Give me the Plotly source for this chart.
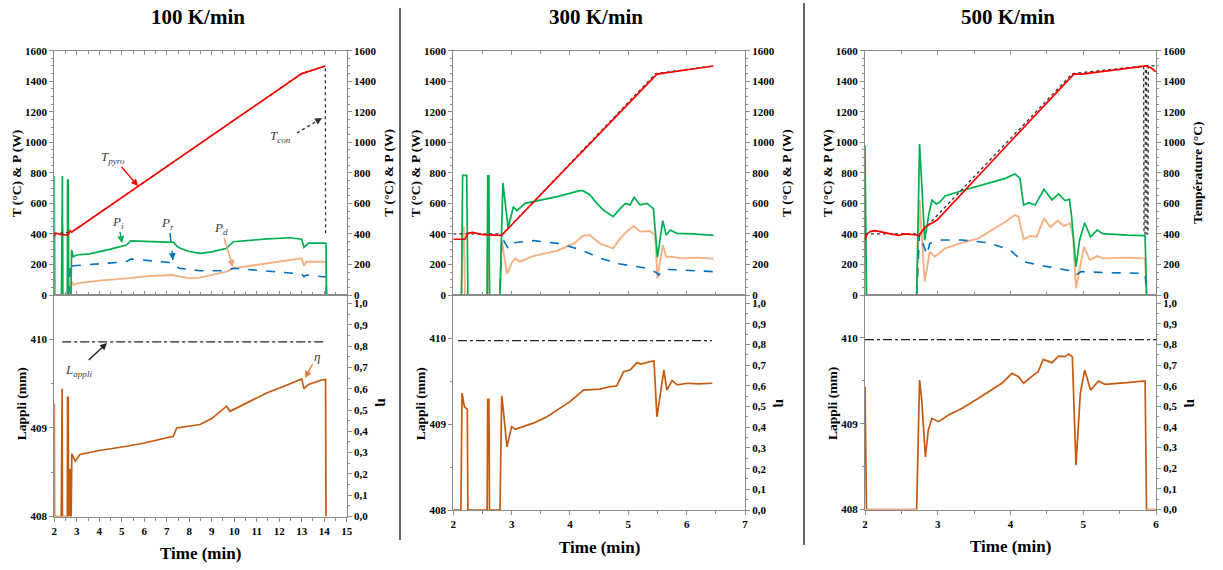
import plotly.graph_objects as go

OFF = 0
W, H = 1223, 570

# ---------------- Panel 1 : 100 K/min ----------------
p1_T_pyro_t = [2.0, 2.03, 2.1, 2.3, 2.5, 2.62, 2.7, 2.77, 13.0, 14.05]
p1_T_pyro = [380, 405, 404, 395, 393, 395, 421, 412, 1450, 1500]
p1_T_con_t = [2.0, 2.77, 13.0, 14.05, 14.06]
p1_T_con = [400, 412, 1450, 1500, 400]
p1_P_i_t = [2.0, 2.005, 2.015, 2.32, 2.33, 2.36, 2.37, 2.58, 2.59, 2.62, 2.63, 2.74, 2.77, 2.84, 2.99, 3.58,
            4.5, 5.2, 5.4, 6.26, 7.3, 7.45, 7.6, 8.0, 8.48, 9.0, 9.66, 9.96, 10.7, 11.5, 12.48, 13.0, 13.1,
            13.3, 13.96, 14.08, 14.1]
p1_P_i = [780, 780, 0, 0, 779, 779, 0, 0, 753, 753, 0, 0, 295, 251, 262, 269,
          300, 327, 354, 349, 345, 320, 306, 285, 273, 282, 306, 349, 360, 368, 375, 365, 312,
          340, 340, 338, 0]
p1_P_r_t = [2.64, 2.72, 2.77, 2.85, 3.3, 4.5, 5.2, 5.4, 6.26, 7.26, 7.55, 8.48, 9.66, 9.96, 11.44, 13.0,
            13.1, 13.2, 13.96, 14.08, 14.1]
p1_P_r = [0, 210, 188, 192, 196, 208, 218, 236, 225, 211, 175, 159, 159, 175, 157, 137,
          120, 131, 120, 118, 0]
p1_P_d_t = [2.0, 2.005, 2.015, 2.33, 2.34, 2.37, 2.38, 2.60, 2.61, 2.63, 2.64, 2.74, 2.77, 2.88, 3.0, 4.0,
            5.2, 6.26, 7.26, 8.04, 8.48, 9.0, 9.66, 9.96, 11.44, 12.78, 13.0, 13.1, 13.2, 13.96, 14.08, 14.1]
p1_P_d = [400, 400, 0, 0, 458, 458, 0, 0, 445, 445, 0, 0, 87, 65, 76, 94,
          109, 124, 131, 109, 114, 130, 153, 175, 207, 234, 240, 190, 218, 218, 215, 0]
p1_eta_t = [2.0, 2.005, 2.01, 2.31, 2.32, 2.35, 2.36, 2.58, 2.59, 2.62, 2.63, 2.67, 2.68, 2.70, 2.71, 2.75,
            2.78, 2.85, 2.93, 3.14, 4.0, 5.22, 6.0, 7.29, 7.44, 8.48, 9.0, 9.66, 9.81, 10.5, 11.44, 12.3,
            13.0, 13.1, 13.3, 13.96, 14.06, 14.08]
p1_eta = [0.53, 0.53, 0, 0, 0.60, 0.60, 0, 0, 0.56, 0.56, 0, 0, 0.22, 0.22, 0, 0,
          0.294, 0.28, 0.26, 0.291, 0.31, 0.33, 0.345, 0.377, 0.416, 0.432, 0.46, 0.518, 0.494, 0.53, 0.58, 0.615,
          0.646, 0.60, 0.62, 0.643, 0.643, 0]
p1_L_t = [2.35, 14.08]
p1_L = [409.97, 409.97]

# ---------------- Panel 2 : 300 K/min ----------------
p2_T_pyro_t = [2.0, 2.2, 2.25, 2.33, 2.5, 2.83, 2.86, 5.49, 6.46]
p2_T_pyro = [365, 365, 404, 410, 395, 390, 404, 1447, 1500]
p2_T_con_t = [2.0, 2.85, 5.47, 6.46]
p2_T_con = [400, 400, 1450, 1500]
p2_P_i_t = [2.0, 2.14, 2.16, 2.23, 2.25, 2.58, 2.59, 2.61, 2.62, 2.80, 2.85, 2.94, 3.03, 3.09, 3.23, 3.49,
            3.78, 4.17, 4.22, 4.34, 4.46, 4.57, 4.74, 4.86, 4.95, 5.03, 5.10, 5.20, 5.32, 5.43, 5.46, 5.50,
            5.59, 5.65, 5.72, 5.83, 6.1, 6.46]
p2_P_i = [0, 0, 784, 784, 0, 0, 780, 780, 0, 0, 735, 440, 578, 552, 600, 622,
          644, 683, 683, 657, 600, 557, 513, 566, 600, 590, 640, 590, 600, 566, 447, 247,
          487, 393, 426, 404, 400, 390]
p2_P_r_t = [2.0, 2.80, 2.83, 2.94, 3.0, 3.37, 3.78, 4.17, 4.52, 4.86, 5.32, 5.49, 5.52, 5.63, 5.89, 6.46]
p2_P_r = [0, 0, 378, 306, 341, 356, 338, 299, 240, 203, 175, 146, 131, 168, 164, 153]
p2_P_d_t = [2.0, 2.14, 2.16, 2.18, 2.20, 2.58, 2.59, 2.61, 2.62, 2.80, 2.83, 2.92, 3.0, 3.06, 3.14, 3.37,
            3.78, 4.07, 4.23, 4.34, 4.52, 4.74, 4.86, 4.97, 5.09, 5.2, 5.37, 5.46, 5.50, 5.59, 5.65, 5.75,
            5.9, 6.2, 6.46]
p2_P_d = [0, 0, 443, 443, 0, 0, 410, 410, 0, 0, 360, 138, 208, 240, 218, 255,
          290, 338, 390, 393, 334, 306, 371, 415, 452, 415, 419, 393, 109, 327, 251, 251,
          240, 245, 237]
p2_eta_t = [2.0, 2.13, 2.15, 2.19, 2.24, 2.25, 2.58, 2.59, 2.61, 2.62, 2.80, 2.83, 2.86, 2.92, 3.0, 3.06,
            3.37, 3.6, 4.0, 4.23, 4.52, 4.66, 4.8, 4.92, 5.03, 5.15, 5.21, 5.44, 5.49, 5.61, 5.66, 5.75,
            5.84, 6.01, 6.2, 6.44]
p2_eta = [0, 0, 0.565, 0.50, 0.487, 0, 0, 0.535, 0.535, 0, 0, 0.552, 0.476, 0.306, 0.403, 0.39,
          0.42, 0.45, 0.524, 0.58, 0.585, 0.595, 0.60, 0.669, 0.677, 0.713, 0.706, 0.722, 0.451, 0.677, 0.58, 0.626,
          0.605, 0.613, 0.61, 0.613]
p2_L_t = [2.08, 6.43]
p2_L = [409.97, 409.97]

# ---------------- Panel 3 : 500 K/min ----------------
p3_T_pyro_t = [2.0, 2.03, 2.07, 2.14, 2.32, 2.46, 2.55, 2.71, 2.74, 2.82, 2.99, 3.33, 4.02, 4.87, 4.98,
               5.87, 5.94, 6.0]
p3_T_pyro = [360, 400, 415, 422, 404, 390, 400, 393, 386, 443, 491, 666, 1015, 1447, 1447,
             1500, 1485, 1462]
p3_T_con_t = [2.0, 2.75, 4.85, 5.83, 5.835, 5.85, 5.855, 5.87, 5.875, 5.89, 5.895, 6.0]
p3_T_con = [400, 400, 1450, 1500, 400, 400, 1500, 1500, 400, 400, 1500, 1500]
p3_P_i_t = [2.0, 2.005, 2.02, 2.71, 2.75, 2.78, 2.82, 2.88, 2.92, 2.98, 3.03, 3.10, 3.33, 3.93, 4.06, 4.13,
            4.18, 4.25, 4.34, 4.46, 4.57, 4.66, 4.75, 4.81, 4.84, 4.90, 4.95, 5.02, 5.10, 5.19, 5.27, 5.6,
            5.83, 5.85, 5.87, 6.0]
p3_P_i = [980, 600, 0, 0, 989, 727, 360, 535, 622, 596, 609, 648, 683, 764, 793, 764,
          589, 605, 589, 692, 623, 662, 618, 627, 513, 185, 360, 473, 380, 425, 402, 392,
          389, 389, 0, 0]
p3_P_r_t = [2.71, 2.75, 2.85, 2.89, 2.96, 3.05, 3.33, 3.70, 3.99, 4.18, 4.46, 4.82, 4.90, 4.97, 5.36, 5.83,
            5.85, 5.87]
p3_P_r = [0, 404, 262, 338, 349, 360, 360, 342, 295, 218, 190, 159, 131, 153, 146, 142,
          142, 0]
p3_P_d_t = [2.0, 2.005, 2.02, 2.71, 2.75, 2.82, 2.89, 2.96, 3.10, 3.33, 3.56, 3.93, 4.06, 4.11, 4.18, 4.27,
            4.36, 4.46, 4.55, 4.65, 4.73, 4.82, 4.86, 4.90, 4.95, 5.01, 5.09, 5.19, 5.27, 5.6, 5.83, 5.85,
            5.87, 6.0]
p3_P_d = [580, 300, 0, 0, 622, 87, 284, 251, 306, 342, 371, 480, 524, 513, 365, 387,
          382, 502, 444, 488, 453, 470, 382, 44, 164, 316, 229, 255, 240, 245, 240, 240,
          0, 0]
p3_eta_t = [2.0, 2.005, 2.02, 2.71, 2.75, 2.78, 2.83, 2.87, 2.92, 3.01, 3.15, 3.33, 3.56, 3.88, 4.02, 4.11,
            4.18, 4.29, 4.38, 4.45, 4.57, 4.66, 4.75, 4.80, 4.85, 4.90, 4.96, 5.02, 5.10, 5.21, 5.30, 5.6,
            5.83, 5.85, 5.87, 6.0]
p3_eta = [0.595, 0.3, 0, 0, 0.628, 0.53, 0.255, 0.385, 0.442, 0.426, 0.458, 0.49, 0.539, 0.612, 0.66, 0.644,
          0.612, 0.644, 0.668, 0.728, 0.712, 0.744, 0.741, 0.754, 0.741, 0.215, 0.563, 0.676, 0.579, 0.623, 0.607, 0.615,
          0.623, 0.623, 0, 0]
p3_L_t = [2.0, 6.0]
p3_L = [409.98, 409.98]

titles = ["100 K/min", "300 K/min", "500 K/min"]
x_ranges = [[2, 15], [2, 7], [2, 6]]
top_range = [0, 1600]
bottom_left_range = [408, 410.5]
eta_range = [0, 1.04]
eta_ticks = [i / 10 for i in range(11)]
eta_labels = [("%.1f" % v).replace(".", ",") for v in eta_ticks]
right_top_titles = ["T (°C) & P (W)", "T (°C) & P (W)", "Température (°C)"]

panels = [
    dict(Tp=(p1_T_pyro_t, p1_T_pyro), Tc=(p1_T_con_t, p1_T_con), Pi=(p1_P_i_t, p1_P_i),
         Pr=(p1_P_r_t, p1_P_r), Pd=(p1_P_d_t, p1_P_d), eta=(p1_eta_t, p1_eta), L=(p1_L_t, p1_L)),
    dict(Tp=(p2_T_pyro_t, p2_T_pyro), Tc=(p2_T_con_t, p2_T_con), Pi=(p2_P_i_t, p2_P_i),
         Pr=(p2_P_r_t, p2_P_r), Pd=(p2_P_d_t, p2_P_d), eta=(p2_eta_t, p2_eta), L=(p2_L_t, p2_L)),
    dict(Tp=(p3_T_pyro_t, p3_T_pyro), Tc=(p3_T_con_t, p3_T_con), Pi=(p3_P_i_t, p3_P_i),
         Pr=(p3_P_r_t, p3_P_r), Pd=(p3_P_d_t, p3_P_d), eta=(p3_eta_t, p3_eta), L=(p3_L_t, p3_L)),
]

# pixel geometry in window coordinates
x_px = [(54.3, 346.7), (453.3, 745.0), (865.0, 1156.0)]
top_px = (50.7, 295.0)
bottom_px = [(295.0, 516.5), (295.0, 510.0), (295.0, 509.5)]

SERIF = "Liberation Serif"
GRAY = "#8c8c8c"
C_RED = "#ff0000"
C_GREEN = "#00b050"
C_BLUE = "#0070c0"
C_LORANGE = "#f4b183"
C_ETA = "#c55a11"

def px2fx(p):
    return (p - OFF) / W

def py2fy(p):
    return 1 - (p - OFF) / H

tickfont = dict(family=SERIF, size=11, color="black", weight="bold")

fig = go.Figure()
layout = dict(width=W, height=H, margin=dict(l=0, r=0, t=0, b=0, pad=0, autoexpand=False),
              paper_bgcolor="white", plot_bgcolor="white", showlegend=False)
annotations = []
shapes = []

def text_ann(text, x, y, font, angle=0):
    annotations.append(dict(text=text, x=px2fx(x), y=py2fy(y), xref="paper", yref="paper",
                            xanchor="center", yanchor="middle", showarrow=False, borderpad=0,
                            textangle=angle, font=font))

for k, pdat in enumerate(panels):
    xt, xb = 2 * k + 1, 2 * k + 2
    yTL, yTR, yBL, yBR = 4 * k + 1, 4 * k + 2, 4 * k + 3, 4 * k + 4
    nm = lambda a, n: a if n == 1 else f"{a}{n}"
    xd = [px2fx(x_px[k][0]), px2fx(x_px[k][1])]
    ytd = [py2fy(top_px[1]), py2fy(top_px[0])]
    ybd = [py2fy(bottom_px[k][1]), py2fy(bottom_px[k][0])]

    common_x = dict(range=x_ranges[k], showgrid=False, zeroline=False, showline=True, linecolor=GRAY,
                    linewidth=1, tickcolor=GRAY, dtick=1, tick0=0, tickfont=tickfont, automargin=False)
    layout[nm("xaxis", xt)] = dict(common_x, domain=xd, anchor=nm("y", yTL), showticklabels=False,
                                   ticks="inside", ticklen=4, mirror="ticks",
                                   minor=dict(dtick=0.5, tick0=0, ticklen=3, ticks="inside", tickcolor=GRAY))
    layout[nm("xaxis", xb)] = dict(common_x, domain=xd, anchor=nm("y", yBL), showticklabels=True,
                                   ticks="outside", ticklen=4, mirror=True,
                                   minor=dict(dtick=0.5, tick0=0, ticklen=3, ticks="outside", tickcolor=GRAY))
    common_y = dict(showgrid=False, zeroline=False, showline=True, linecolor=GRAY, linewidth=1,
                    tickcolor=GRAY, ticks="outside", ticklen=4, tickfont=tickfont, automargin=False)
    layout[nm("yaxis", yTL)] = dict(common_y, domain=ytd, range=top_range, anchor=nm("x", xt), side="left",
                                    dtick=200, tick0=0,
                                    minor=dict(dtick=50, ticklen=2, ticks="outside", tickcolor=GRAY))
    layout[nm("yaxis", yTR)] = dict(common_y, range=top_range, anchor=nm("x", xt), side="right",
                                    overlaying=nm("y", yTL), dtick=200, tick0=0,
                                    minor=dict(dtick=50, ticklen=2, ticks="outside", tickcolor=GRAY))
    layout[nm("yaxis", yBL)] = dict(common_y, domain=ybd, range=bottom_left_range, anchor=nm("x", xb),
                                    side="left", tickvals=[408, 409, 410],
                                    minor=dict(dtick=0.5, tick0=408, ticklen=2, ticks="outside", tickcolor=GRAY))
    layout[nm("yaxis", yBR)] = dict(common_y, range=eta_range, anchor=nm("x", xb), side="right",
                                    overlaying=nm("y", yBL), tickvals=eta_ticks, ticktext=eta_labels,
                                    minor=dict(dtick=0.05, tick0=0, ticklen=2, ticks="outside", tickcolor=GRAY))

    xa_t, xa_b = nm("x", xt), nm("x", xb)
    ya_tl, ya_tr, ya_bl, ya_br = nm("y", yTL), nm("y", yTR), nm("y", yBL), nm("y", yBR)

    def add(xy, xa, ya, color, width=1.7, dash=None):
        fig.add_trace(go.Scatter(x=xy[0], y=xy[1], xaxis=xa, yaxis=ya, mode="lines",
                                 line=dict(color=color, width=width, dash=dash), hoverinfo="skip"))

    add(pdat["Pd"], xa_t, ya_tl, C_LORANGE, 1.9)
    add(pdat["Pr"], xa_t, ya_tl, C_BLUE, 1.6, "dash")
    add(pdat["Pi"], xa_t, ya_tl, C_GREEN, 1.7)
    add(pdat["Tc"], xa_t, ya_tl, "#333333", 1.3, "dot")
    add(pdat["Tp"], xa_t, ya_tl, C_RED, 1.7)
    fig.add_trace(go.Scatter(x=[None], y=[None], xaxis=xa_t, yaxis=ya_tr, mode="lines", hoverinfo="skip"))
    add(pdat["L"], xa_b, ya_bl, "#222222", 1.3, "dashdot")
    add(pdat["eta"], xa_b, ya_br, C_ETA, 1.7)

    # texts
    cx = (x_px[k][0] + x_px[k][1]) / 2
    text_ann(titles[k], cx - 3, 17, dict(family=SERIF, size=21, color="black", weight="bold"))
    text_ann("Time (min)", cx, bottom_px[k][1] + 37, dict(family=SERIF, size=17, color="black", weight="bold"))
    axfont = dict(family=SERIF, size=13.5, color="black", weight="bold")
    text_ann("T (°C) & P (W)", x_px[k][0] - 38, 173, axfont, -90)
    text_ann(right_top_titles[k], x_px[k][1] + 41, 173, axfont, -90)
    text_ann("Lappli (mm)", x_px[k][0] - 33, 404, axfont, -90)
    text_ann("η", x_px[k][1] + 36, 403, dict(family=SERIF, size=15, color="black", weight="bold"), 90)

# separators
shapes.append(dict(type="line", xref="paper", yref="paper", x0=px2fx(400), x1=px2fx(400),
                   y0=py2fy(8), y1=py2fy(540), line=dict(color="black", width=1.2)))
shapes.append(dict(type="line", xref="paper", yref="paper", x0=px2fx(804), x1=px2fx(804),
                   y0=py2fy(3), y1=py2fy(545), line=dict(color="black", width=1.2)))

# panel-1 labels with arrows
lab_font = dict(family=SERIF, size=13, color="#404040", style="italic")

def arrow_label(hx, hy, tx, ty, text, color):
    annotations.append(dict(x=px2fx(hx), y=py2fy(hy), xref="paper", yref="paper", text=text,
                            ax=tx - hx, ay=ty - hy, showarrow=True, arrowhead=2, arrowsize=1,
                            arrowwidth=1.4, arrowcolor=color, font=lab_font))

def dashed_arrow_label(hx, hy, lx0, ly0, tx, ty, text, color, dash):
    shapes.append(dict(type="line", xref="paper", yref="paper", x0=px2fx(lx0), y0=py2fy(ly0),
                       x1=px2fx(hx), y1=py2fy(hy), line=dict(color=color, width=1.4, dash=dash)))
    dx, dy = hx - lx0, hy - ly0
    n = (dx * dx + dy * dy) ** 0.5
    annotations.append(dict(x=px2fx(hx), y=py2fy(hy), xref="paper", yref="paper", text="",
                            ax=-dx / n * 7, ay=-dy / n * 7, showarrow=True, arrowhead=2, arrowsize=1,
                            arrowwidth=1.4, arrowcolor=color))
    text_ann(text, tx, ty, lab_font)

arrow_label(138, 186, 113, 157, "T<sub>pyro</sub>", C_RED)
dashed_arrow_label(322, 118, 297, 133, 280, 137, "T<sub>con</sub>", "#333333", "dot")
arrow_label(122, 243, 118, 222, "P<sub>i</sub>", C_GREEN)
dashed_arrow_label(173, 260, 170, 233, 168, 223, "P<sub>r</sub>", C_BLUE, "dash")
arrow_label(233, 267, 221, 228, "P<sub>d</sub>", "#f4a070")
arrow_label(107, 343, 78, 370, "L<sub>appli</sub>", "#222222")
arrow_label(305, 378, 317, 356, "η", "#e07b39")

layout["annotations"] = annotations
layout["shapes"] = shapes
fig.update_layout(**layout)
# remove the default 8px page margin so the 1223x570 figure fills the window exactly
fig.write_html("out.html", config={"displayModeBar": False},
               post_script="document.body.style.margin='0px';")
